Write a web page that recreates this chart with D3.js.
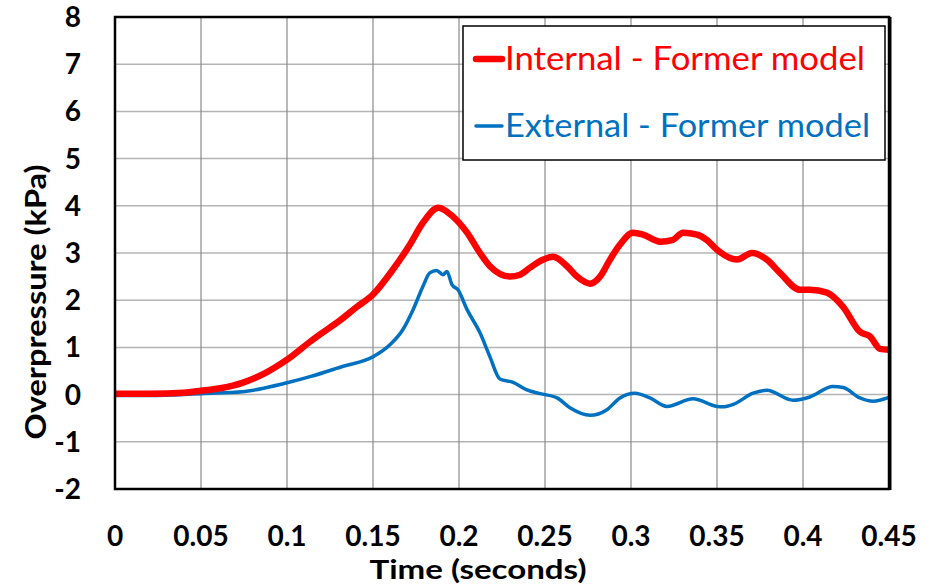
<!DOCTYPE html>
<html lang="en">
<head>
    <meta charset="UTF-8">
    <title>Overpressure vs time</title>
    <style>
        body {
            margin: 0;
            background-color: white;
        }
        svg text {
            font-family: Lato, "Open Sans", Arial, sans-serif;
        }
    </style>
    <script src="https://d3js.org/d3.v7.min.js"></script>
</head>
<body>
    <div id="chart"></div>
    <script>
        // Values
        const xTicks = [0, 0.05, 0.1, 0.15, 0.2, 0.25, 0.3, 0.35, 0.4, 0.45];
        const yTicks = [-2, -1, 0, 1, 2, 3, 4, 5, 6, 7, 8];

        const internalTime = [0, 0.02, 0.04, 0.05, 0.062, 0.074, 0.087, 0.1, 0.1134, 0.119, 0.13, 0.1407, 0.15, 0.1616,
            0.1715, 0.179, 0.188, 0.1965, 0.2047, 0.2122, 0.218, 0.2297, 0.2355, 0.2413, 0.249, 0.2547, 0.2628,
            0.2686, 0.2762, 0.282, 0.2878, 0.2936, 0.3012, 0.307, 0.3169, 0.3244, 0.3302, 0.3384, 0.344, 0.35,
            0.3616, 0.3703, 0.379, 0.3866, 0.3983, 0.404, 0.4139, 0.4233, 0.4331, 0.439, 0.4448, 0.45];
        const internalKPa = [0.02, 0.02, 0.04, 0.08, 0.14, 0.25, 0.45, 0.74, 1.12, 1.27, 1.55, 1.86, 2.12, 2.65,
            3.18, 3.64, 3.96, 3.77, 3.43, 3.0, 2.72, 2.5, 2.54, 2.69, 2.86, 2.92, 2.72,
            2.5, 2.35, 2.5, 2.86, 3.18, 3.43, 3.39, 3.24, 3.28, 3.43, 3.39, 3.28, 3.07,
            2.86, 3.0, 2.86, 2.58, 2.22, 2.22, 2.16, 1.86, 1.33, 1.23, 0.97, 0.95];

        const externalTime = [0, 0.02, 0.04, 0.05, 0.074, 0.087, 0.1, 0.1134, 0.1326, 0.15, 0.16, 0.1674, 0.1733,
            0.179, 0.183, 0.187, 0.1907, 0.193, 0.1959, 0.1994, 0.2047, 0.2122, 0.218, 0.2238, 0.2314, 0.2395,
            0.2471, 0.257, 0.2645, 0.2762, 0.286, 0.2936, 0.3023, 0.311, 0.3209, 0.336, 0.35, 0.3535, 0.3593,
            0.371, 0.379, 0.3942, 0.404, 0.4174, 0.4233, 0.4331, 0.4407, 0.45];
        const externalKPa = [-0.02, -0.02, 0.0, 0.02, 0.06, 0.14, 0.25, 0.38, 0.6, 0.8, 1.06, 1.38, 1.8,
            2.29, 2.58, 2.63, 2.54, 2.61, 2.33, 2.22, 1.8, 1.31, 0.8, 0.33, 0.26, 0.1,
            0.02, -0.07, -0.28, -0.44, -0.32, -0.07, 0.03, -0.07, -0.25, -0.09, -0.25, -0.26, -0.21,
            0.03, 0.09, -0.12, -0.05, 0.17, 0.15, -0.07, -0.14, -0.06];

        const seriesNames = ["Internal - Former model", "External - Former model"];

        const width = 938;
        const height = 587;
        const margin = { top: 17, right: 49, bottom: 98, left: 115 };

        const svg = d3.select('#chart').append('svg')
            .attr('width', width)
            .attr('height', height);

        const x = d3.scaleLinear()
            .domain([0, 0.45])
            .range([margin.left, width - margin.right]);

        const y = d3.scaleLinear()
            .domain([-2, 8])
            .range([height - margin.bottom, margin.top]);

        // grid
        svg.append('g')
            .selectAll('line')
            .data(yTicks)
            .enter().append('line')
            .attr('x1', x(0)).attr('x2', x(0.45))
            .attr('y1', d => y(d)).attr('y2', d => y(d))
            .attr('stroke', '#b4b4b4')
            .attr('stroke-width', 1.5);

        svg.append('g')
            .selectAll('line')
            .data(xTicks)
            .enter().append('line')
            .attr('x1', d => x(d)).attr('x2', d => x(d))
            .attr('y1', y(8)).attr('y2', y(-2))
            .attr('stroke', '#8a8a8a')
            .attr('stroke-width', 1.2);

        // curves
        const line = d3.line()
            .x(d => x(d[0]))
            .y(d => y(d[1]))
            .curve(d3.curveMonotoneX);

        const internal = internalTime.map((t, i) => [t, internalKPa[i]]);
        const external = externalTime.map((t, i) => [t, externalKPa[i]]);

        svg.append('path')
            .datum(external)
            .attr('d', line)
            .attr('fill', 'none')
            .attr('stroke', '#0070c0')
            .attr('stroke-width', 3.5)
            .attr('stroke-linejoin', 'round');

        svg.append('path')
            .datum(internal)
            .attr('d', line)
            .attr('fill', 'none')
            .attr('stroke', '#ff0000')
            .attr('stroke-width', 6.5)
            .attr('stroke-linejoin', 'round');

        // plot border
        svg.append('rect')
            .attr('x', x(0))
            .attr('y', y(8))
            .attr('width', x(0.45) - x(0))
            .attr('height', y(-2) - y(8))
            .attr('fill', 'none')
            .attr('stroke', '#000')
            .attr('stroke-width', 2.5);

        svg.append('line')
            .attr('x1', x(0.45) + 1).attr('x2', x(0.45) + 1)
            .attr('y1', y(8)).attr('y2', y(-2) + 1)
            .attr('stroke', '#000')
            .attr('stroke-width', 3);

        // tick labels
        svg.append('g')
            .selectAll('text')
            .data(yTicks)
            .enter().append('text')
            .attr('x', 81)
            .attr('y', d => y(d))
            .attr('dy', '0.36em')
            .attr('text-anchor', 'end')
            .attr('font-size', 28)
            .attr('font-weight', 'bold')
            .text(d => d);

        svg.append('g')
            .selectAll('text')
            .data(xTicks)
            .enter().append('text')
            .attr('x', d => x(d))
            .attr('y', 546)
            .attr('text-anchor', 'middle')
            .attr('font-size', 28)
            .attr('font-weight', 'bold')
            .text(d => d);

        // axis titles
        svg.append('text')
            .attr('x', 478)
            .attr('y', 579)
            .attr('text-anchor', 'middle')
            .attr('font-size', 27)
            .attr('font-weight', 'bold')
            .attr('textLength', 217)
            .attr('lengthAdjust', 'spacingAndGlyphs')
            .text('Time (seconds)');

        svg.append('text')
            .attr('transform', 'translate(46,302) rotate(-90)')
            .attr('text-anchor', 'middle')
            .attr('font-size', 29)
            .attr('font-weight', 'bold')
            .attr('textLength', 275)
            .attr('lengthAdjust', 'spacingAndGlyphs')
            .text('Overpressure (kPa)');

        // legend
        const legend = svg.append('g');
        legend.append('rect')
            .attr('x', 463).attr('y', 26)
            .attr('width', 422).attr('height', 134)
            .attr('fill', 'white')
            .attr('stroke', '#000')
            .attr('stroke-width', 1.5);

        const legendItems = [
            { name: seriesNames[0], color: '#ff0000', w: 6.5, y: 59, len: 360 },
            { name: seriesNames[1], color: '#0070c0', w: 3.5, y: 126, len: 365 }
        ];

        legend.selectAll('line')
            .data(legendItems)
            .enter().append('line')
            .attr('x1', 476).attr('x2', 502)
            .attr('y1', d => d.y).attr('y2', d => d.y)
            .attr('stroke', d => d.color)
            .attr('stroke-width', d => d.w)
            .attr('stroke-linecap', 'round');

        legend.selectAll('text')
            .data(legendItems)
            .enter().append('text')
            .attr('x', 505)
            .attr('y', d => d.y + 11)
            .attr('font-size', 32)
            .attr('fill', d => d.color)
            .attr('textLength', d => d.len)
            .attr('lengthAdjust', 'spacingAndGlyphs')
            .text(d => d.name);
    </script>
</body>
</html>
